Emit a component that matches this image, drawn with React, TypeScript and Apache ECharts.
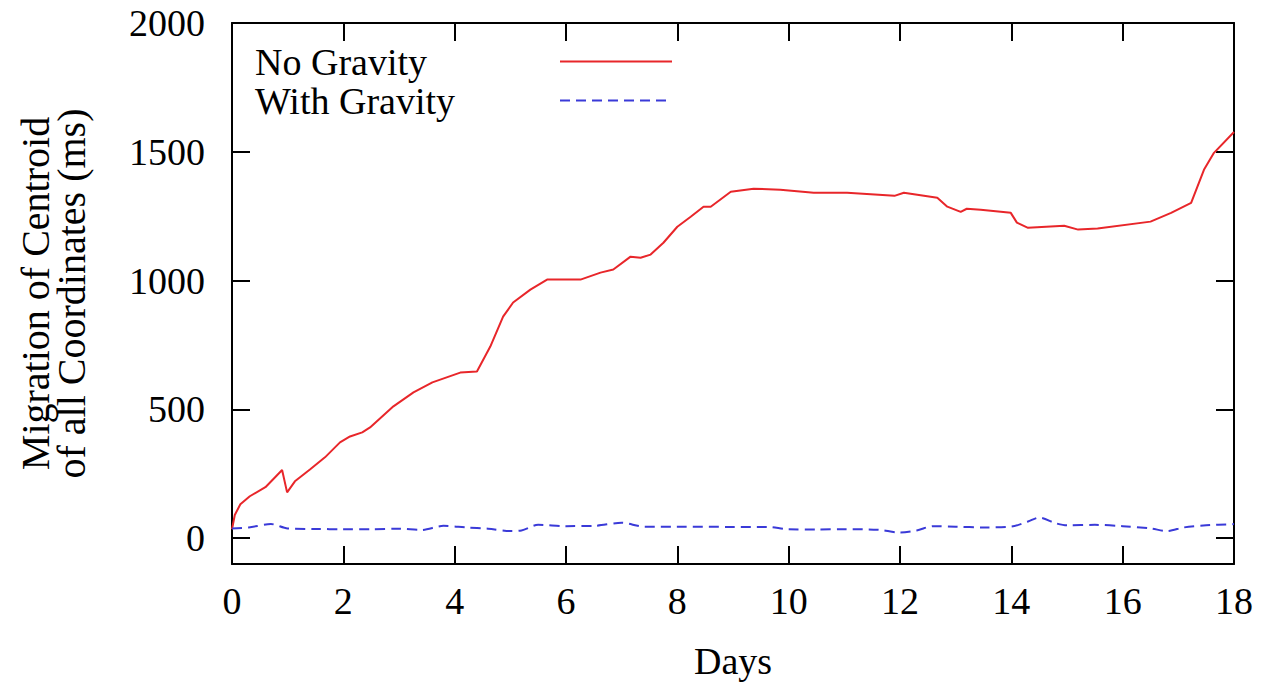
import React, { useEffect, useRef } from "react";
import * as echarts from "echarts";

const redDays = [0, 0.05, 0.15, 0.32, 0.6, 0.77, 0.9, 0.99, 1.13, 1.4, 1.67, 1.94, 2.12, 2.34, 2.48, 2.9, 3.26, 3.6, 4.1, 4.4, 4.64, 4.87, 5.05, 5.36, 5.66, 6.26, 6.62, 6.85, 7.16, 7.34, 7.52, 7.75, 8.0, 8.24, 8.47, 8.6, 8.96, 9.37, 9.85, 10.45, 11.05, 11.9, 12.07, 12.67, 12.85, 13.09, 13.2, 13.45, 13.99, 14.1, 14.3, 14.95, 15.2, 15.55, 16.5, 16.87, 17.23, 17.46, 17.64, 18.0];
const redValues = [35, 90, 132, 163, 198, 236, 265, 178, 221, 267, 314, 372, 395, 411, 430, 512, 566, 605, 643, 647, 744, 860, 915, 965, 1004, 1004, 1031, 1043, 1093, 1089, 1101, 1147, 1209, 1248, 1287, 1287, 1345, 1357, 1353, 1341, 1341, 1329, 1341, 1322, 1287, 1267, 1279, 1275, 1263, 1225, 1205, 1213, 1198, 1202, 1229, 1263, 1302, 1430, 1496, 1577];

const blueDays = [0, 0.3, 0.7, 1.0, 1.5, 2.0, 2.5, 3.0, 3.4, 3.8, 4.2, 4.6, 5.0, 5.2, 5.5, 6.0, 6.5, 7.0, 7.4, 8.0, 9.0, 9.6, 10.0, 10.5, 11.0, 11.6, 12.0, 12.3, 12.6, 13.0, 13.5, 14.0, 14.3, 14.5, 14.8, 15.0, 15.5, 16.0, 16.5, 16.8, 17.1, 17.5, 18.0];
const blueValues = [38, 42, 55, 38, 36, 35, 35, 37, 32, 48, 42, 37, 28, 30, 52, 47, 48, 60, 45, 45, 44, 44, 35, 34, 35, 33, 22, 30, 47, 45, 42, 45, 65, 80, 58, 50, 52, 47, 38, 28, 42, 50, 55];

const seriesNames = ["No Gravity", "With Gravity"];
const yTicks = [0, 500, 1000, 1500, 2000];
const xTitle = "Days";
const yTitle = "Migration of Centroid\nof all Coordinates (ms)";

const FONT = "'Liberation Serif', 'DejaVu Serif', serif";

export default function App() {
  const ref = useRef<HTMLDivElement>(null);
  useEffect(() => {
    if (!ref.current) return;
    const chart = echarts.init(ref.current, null, { renderer: "svg" });
    const axisLine = { show: true, onZero: false, lineStyle: { color: "#000", width: 2 } };
    const tick = { show: true, inside: true, length: 18, lineStyle: { color: "#000", width: 2 } };
    chart.setOption({
      animation: false,
      backgroundColor: "#fff",
      grid: { left: 232, right: 31, top: 23, bottom: 120, containLabel: false },
      legend: {
        orient: "vertical",
        left: 250,
        top: 37,
        align: "right",
        itemWidth: 112,
        itemHeight: 14,
        itemGap: 0,
        itemStyle: { opacity: 0 },
        formatter: "{a|{name}}",
        textStyle: {
          fontFamily: FONT,
          fontSize: 38,
          color: "#000",
          lineHeight: 39,
          rich: { a: { width: 300, align: "left", fontFamily: FONT, fontSize: 38, lineHeight: 39, color: "#000" } },
        },
        data: seriesNames,
      },
      xAxis: [
        {
          type: "value",
          min: 0,
          max: 18,
          interval: 2,
          position: "bottom",
          name: xTitle,
          nameLocation: "middle",
          nameGap: 78,
          nameTextStyle: { fontFamily: FONT, fontSize: 38, color: "#000" },
          axisLine,
          axisTick: tick,
          axisLabel: { fontFamily: FONT, fontSize: 38, color: "#000", margin: 18 },
          splitLine: { show: false },
        },
        {
          type: "value",
          min: 0,
          max: 18,
          interval: 2,
          position: "top",
          axisLine,
          axisTick: tick,
          axisLabel: { show: false },
          splitLine: { show: false },
        },
      ],
      yAxis: [
        {
          type: "value",
          min: -100,
          max: 2000,
          position: "left",
          name: yTitle,
          nameLocation: "middle",
          nameRotate: 90,
          nameGap: 143,
          nameTextStyle: { fontFamily: FONT, fontSize: 40, color: "#000", lineHeight: 36 },
          axisLine,
          axisTick: { ...tick, customValues: yTicks },
          axisLabel: {
            fontFamily: FONT,
            fontSize: 38,
            color: "#000",
            margin: 27,
            customValues: yTicks,
            formatter: (v: number) => String(v),
          },
          splitLine: { show: false },
        },
        {
          type: "value",
          min: -100,
          max: 2000,
          position: "right",
          axisLine,
          axisTick: { ...tick, customValues: yTicks },
          axisLabel: { show: false, customValues: yTicks },
          splitLine: { show: false },
        },
      ],
      series: [
        {
          name: seriesNames[0],
          type: "line",
          data: redDays.map((d, i) => [d, redValues[i]]),
          showSymbol: false,
          symbol: "none",
          color: "#e8262a",
          lineStyle: { color: "#e8262a", width: 2 },
        },
        {
          name: seriesNames[1],
          type: "line",
          data: blueDays.map((d, i) => [d, blueValues[i]]),
          showSymbol: false,
          symbol: "none",
          smooth: 0.3,
          color: "#3a3ad8",
          lineStyle: { color: "#3a3ad8", width: 2, type: [10, 6] },
        },
      ],
    });
    return () => chart.dispose();
  }, []);
  return (
    <div
      ref={ref}
      style={{ position: "fixed", left: 0, top: 0, width: 1265, height: 685, background: "#fff" }}
    />
  );
}
